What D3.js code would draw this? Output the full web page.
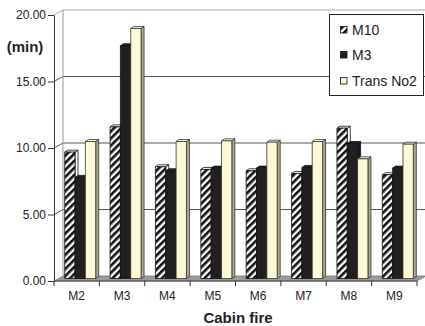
<!DOCTYPE html>
<html>
<head>
<meta charset="utf-8">
<script src="https://cdn.jsdelivr.net/npm/d3@7/dist/d3.min.js"></script>
<style>
  html, body { margin: 0; padding: 0; background: #fff; }
  svg { display: block; font-family: Arial, "Liberation Sans", sans-serif; }
</style>
</head>
<body>
<svg id="chart" width="425" height="326"></svg>
<script>
// Cabin fire: evacuation time (min) per scenario
const categories = ["M2", "M3", "M4", "M5", "M6", "M7", "M8", "M9"];
const seriesNames = ["M10", "M3", "Trans No2"];
const m10Values   = [9.5, 11.4, 8.4, 8.2, 8.1, 7.9, 11.3, 7.8];
const m3Values    = [7.6, 17.5, 8.1, 8.3, 8.3, 8.35, 10.15, 8.3];
const transValues = [10.3, 18.8, 10.3, 10.35, 10.25, 10.3, 9.0, 10.1];
const yTicks = [0, 5, 10, 15, 20];

const seriesValues = [m10Values, m3Values, transValues];

const svg = d3.select("#chart");

// Front plane geometry and depth offsets of the 3D box
const x0 = 54, x1 = 417;
const y = d3.scaleLinear().domain([0, 20]).range([281, 15]);
const DX = 9, DY = -5;        // back wall offset
const BX = 3.5, BY = -2.5;    // plane the bars stand on
const bdx = 3, bdy = -2;      // bar depth

const x = d3.scaleBand().domain(categories).range([x0, x1]).padding(0);
const groupW = 31;
const xs = d3.scaleBand().domain(seriesNames).range([0, groupW]).padding(0);

// Hatch pattern
const defs = svg.append("defs");
const pat = defs.append("pattern")
  .attr("id", "hatch").attr("patternUnits", "userSpaceOnUse")
  .attr("width", 5).attr("height", 5)
  .attr("patternTransform", "rotate(45)");
pat.append("rect").attr("width", 5).attr("height", 5).attr("fill", "#fff");
pat.append("rect").attr("width", 2.6).attr("height", 5).attr("fill", "#111");

// Back wall gridlines
const grid = svg.append("g");
yTicks.forEach(v => {
  if (v === 0) return;
  const yy = y(v);
  grid.append("line")
    .attr("x1", x0 + DX).attr("x2", 430)
    .attr("y1", yy + DY).attr("y2", yy + DY)
    .attr("stroke", v === 20 ? "#aaa" : "#555").attr("stroke-width", 1);
  grid.append("line")
    .attr("x1", x0).attr("x2", x0 + DX)
    .attr("y1", yy).attr("y2", yy + DY)
    .attr("stroke", v === 20 ? "#aaa" : "#555").attr("stroke-width", 1);
});
// left wall back edge
grid.append("line")
  .attr("x1", x0 + DX).attr("x2", x0 + DX)
  .attr("y1", y(20) + DY).attr("y2", y(0) + DY)
  .attr("stroke", "#999");

// Floor
svg.append("polygon")
  .attr("points", [
    [x0, y(0)], [x1, y(0)], [x1 + DX, y(0) + DY], [x0 + DX, y(0) + DY]
  ].map(p => p.join(",")).join(" "))
  .attr("fill", "#9a9a9a").attr("stroke", "#777").attr("stroke-width", 0.8);
svg.append("line")
  .attr("x1", x0).attr("x2", x1).attr("y1", y(0)).attr("y2", y(0))
  .attr("stroke", "#444");

// Bars
const styles = [
  { front: "url(#hatch)", top: "#fff", side: "#fff", stroke: "#111" },
  { front: "#231f20", top: "#2a2627", side: "#1a1718", stroke: "#111" },
  { front: "#fdf9d4", top: "#fefbe3", side: "#aeaa88", stroke: "#333" }
];
const base = y(0) + BY;
const bars = svg.append("g");
categories.forEach((c, ci) => {
  seriesNames.forEach((s, si) => {
    const v = seriesValues[si][ci];
    const bw = xs.bandwidth();
    const bx = x(c) + (x.bandwidth() - groupW) / 2 + xs(s) + BX;
    const top = y(v) + BY;
    const st = styles[si];
    const g = bars.append("g").attr("stroke", st.stroke).attr("stroke-width", 0.8)
      .attr("stroke-linejoin", "round");
    g.append("polygon")
      .attr("points", [[bx + bw, top], [bx + bw + bdx, top + bdy], [bx + bw + bdx, base + bdy], [bx + bw, base]]
        .map(p => p.join(",")).join(" "))
      .attr("fill", st.side);
    g.append("polygon")
      .attr("points", [[bx, top], [bx + bdx, top + bdy], [bx + bw + bdx, top + bdy], [bx + bw, top]]
        .map(p => p.join(",")).join(" "))
      .attr("fill", st.top);
    g.append("rect")
      .attr("x", bx).attr("y", top).attr("width", bw).attr("height", base - top)
      .attr("fill", st.front);
  });
});

// Y axis
const yAxis = d3.axisLeft(y).tickValues(yTicks).tickFormat(d3.format(".2f"))
  .tickSize(6).tickSizeOuter(0).tickPadding(2);
const ya = svg.append("g").attr("transform", `translate(${x0},0)`).call(yAxis);
ya.select(".domain").attr("stroke", "#333");
ya.selectAll(".tick line").attr("stroke", "#333");
ya.selectAll(".tick text").attr("font-size", 12).attr("fill", "#222")
  .attr("font-family", "Arial, 'Liberation Sans', sans-serif");

// X axis: labels at band centres, ticks at band boundaries
const xAxis = d3.axisBottom(x).tickSize(0).tickPadding(10);
const xa = svg.append("g").attr("transform", `translate(0,${y(0)})`).call(xAxis);
xa.select(".domain").remove();
xa.selectAll(".tick text").attr("font-size", 12).attr("fill", "#222")
  .attr("font-family", "Arial, 'Liberation Sans', sans-serif");
const bounds = categories.map(c => x(c)).concat([x(categories[categories.length - 1]) + x.bandwidth()]);
bounds.forEach(b => {
  svg.append("line").attr("x1", b).attr("x2", b)
    .attr("y1", y(0)).attr("y2", y(0) + 5).attr("stroke", "#333");
});

// Titles
svg.append("text").attr("x", 25).attr("y", 52).attr("text-anchor", "middle")
  .attr("font-size", 15).attr("font-weight", "bold").attr("fill", "#222").text("(min)");
svg.append("text").attr("x", 238).attr("y", 323).attr("text-anchor", "middle")
  .attr("font-size", 15).attr("font-weight", "bold").attr("fill", "#222").text("Cabin fire");

// Legend
const lg = svg.append("g");
lg.append("rect").attr("x", 329.5).attr("y", 14.5).attr("width", 94).attr("height", 81)
  .attr("fill", "#fff").attr("stroke", "#222");
const legendY = [30, 55, 81];
seriesNames.forEach((s, i) => {
  lg.append("rect").attr("x", 340.5).attr("y", legendY[i] - 3.5).attr("width", 6.5).attr("height", 6.5)
    .attr("fill", styles[i].front).attr("stroke", "#111").attr("stroke-width", 0.8);
  lg.append("text").attr("x", 352).attr("y", legendY[i] + 5)
    .attr("font-size", 14).attr("fill", "#222").text(s);
});
</script>
</body>
</html>
